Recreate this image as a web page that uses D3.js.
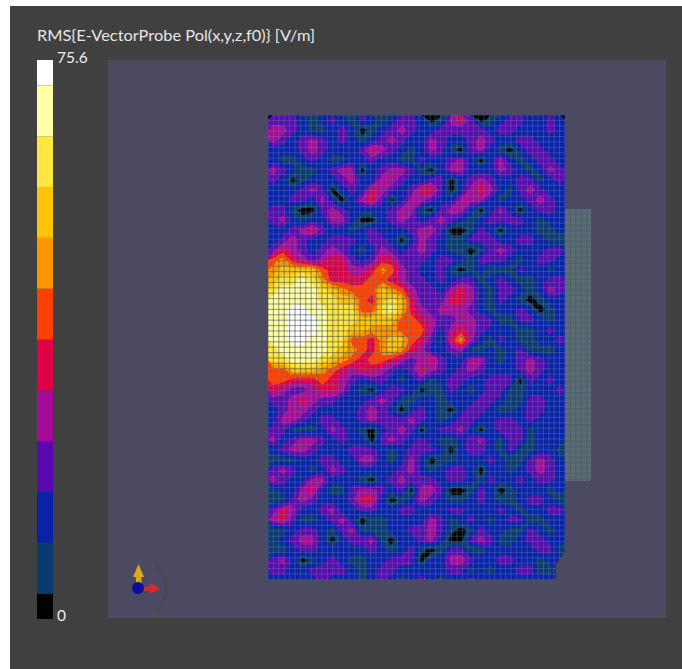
<!DOCTYPE html>
<html>
<head>
<meta charset="utf-8">
<script src="https://cdn.jsdelivr.net/npm/d3@7"></script>
<style>html,body{margin:0;padding:0;background:#fff}svg{display:block}</style>
</head>
<body>
<svg id="chart" width="682" height="669"></svg>
<script>
const titleText = "RMS{E-VectorProbe Pol(x,y,z,f0)} [V/m]";
const fieldMax = 75.6;
const legendTicks = [0, 75.6];
const bandColors = ["#000000","#0a3a72","#0a22aa","#5a08b0","#a60a98","#e00048","#ff4000","#ff9600","#ffc40a","#ffe640","#ffffa8","#ffffff"];
const fieldRows = [
"333212321321233201453012332232",
"443211232012343223333323322232",
"432343232123432243223432233222",
"222343222354321243103421023322",
"211232112232211322342024212332",
"432112344023443102442224321243",
"320122234224432233023432233123",
"222343023254323553024542134322",
"223324202453024432244421223432",
"331003432222344103442024202332",
"342122442002343234321233332122",
"223453221232223443001320222112",
"234322333233202432113332233211",
"354323432124323432110134322233",
"675434553235533323321333212332",
"788886554457643223101211132212",
"899a97555566543323233123211233",
"9aaaa9876668764332454213321243",
"aaaaa9988658985333554213210122",
"aabbaa999669a85434443212232012",
"aabbba999888866543344331133212",
"aabbba998877766642454322211232",
"aabbaa996657886531574213211223",
"9aaaaa987657875422341121231112",
"99aaa9876566543453224421234322",
"668887654554323543234322234322",
"665556543233212312332233303232",
"543345542102332011321233112223",
"334543322234311221222332113322",
"234432222343202321023321123322",
"244323322343334321233223323222",
"331112432102343023342023331222",
"423443232203432321123421331222",
"234432223332123332023321311221",
"111223322442124201122232113432",
"343212432222234212332022123432",
"432244222102343332332132232332",
"122452113443230443001320122212",
"113432223552012432112321123321",
"354223422332233222332223212233",
"453112342011222243123212331122",
"112332134111223343101322113212",
"123442023341022342003431123322",
"112332222232123101331122222331",
"342012321122333022443223322122",
"332233332123322222331212233112",
"222223222123212321223222222222"
];
const levelStep = fieldMax / (bandColors.length - 1);
const fieldValues = fieldRows.flatMap(r => Array.from(r, c => parseInt(c, 16) * levelStep));
const nCols = fieldRows[0].length, nRows = fieldRows.length;

const svg = d3.select("#chart");
const defs = svg.append("defs");
defs.append("filter").attr("id","soft").attr("x","-5%").attr("y","-5%").attr("width","110%").attr("height","110%")
  .append("feGaussianBlur").attr("stdDeviation",0.55);

// frame
svg.append("rect").attr("x",10).attr("y",6).attr("width",672).attr("height",663).attr("fill","#404040");
svg.append("rect").attr("x",108).attr("y",60).attr("width",558).attr("height",558).attr("fill","#4b4a62");

// scales
const xField = d3.scaleLinear().domain([0,nCols]).range([268,565]);
const yField = d3.scaleLinear().domain([0,nRows]).range([115,585]);
const bandEdges = d3.range(bandColors.length-1).map(k => (k+0.5)*levelStep);
const color = d3.scaleThreshold().domain(bandEdges).range(bandColors);

// side block
const side = svg.append("g").attr("filter","url(#soft)");
side.append("rect").attr("x",565).attr("y",209).attr("width",26).attr("height",272).attr("fill","#5b6c74");
d3.range(570.4,591,5.4).forEach(x=>side.append("line").attr("x1",x).attr("x2",x).attr("y1",209).attr("y2",481).attr("stroke","#4e5c68").attr("stroke-width",0.8));
d3.range(214.4,481,5.4).forEach(y=>side.append("line").attr("x1",565).attr("x2",591).attr("y1",y).attr("y2",y).attr("stroke","#4e5c68").attr("stroke-width",0.6));

// field clip with chamfered corner
defs.append("clipPath").attr("id","plate").append("path").attr("d","M268,115H565V552L556,564V580H268Z");

const contours = d3.contours().size([nCols,nRows]).thresholds(bandEdges)(fieldValues);
const proj = d3.geoTransform({point(x,y){this.stream.point(xField(x),yField(y));}});
const path = d3.geoPath(proj);
const plate = svg.append("g").attr("clip-path","url(#plate)");
const inner = plate.append("g").attr("filter","url(#soft)");
inner.append("rect").attr("x",268).attr("y",115).attr("width",297).attr("height",465).attr("fill",bandColors[0]);
inner.selectAll("path.band").data(contours).join("path").attr("class","band")
  .attr("d",path)
  .attr("fill",d=>color(d.value+0.01));

// mesh: faint pale lines over the cool field, dark lines over the hot field
const gridStep = 5.4;
const vLines = d3.range(268,566,gridStep), hLines = d3.range(115,581,gridStep);
function drawMesh(g){
  g.selectAll("line.v").data(vLines).join("line").attr("class","v")
    .attr("x1",d=>d).attr("x2",d=>d).attr("y1",115).attr("y2",580);
  g.selectAll("line.h").data(hLines).join("line").attr("class","h")
    .attr("y1",d=>d).attr("y2",d=>d).attr("x1",268).attr("x2",565);
}
inner.append("g").attr("stroke","#6a92a0").attr("stroke-opacity",0.4).attr("stroke-width",0.9).call(drawMesh);
defs.append("clipPath").attr("id","hot").append("path").attr("d",path(contours[6]));
inner.append("g").attr("clip-path","url(#hot)").attr("stroke","#403420").attr("stroke-opacity",0.42).attr("stroke-width",0.9).call(drawMesh);

// colour legend
const yLegend = d3.scaleLinear().domain([0,fieldMax]).range([619,60]);
const legendBands = bandColors.map((c,k)=>({c,lo:Math.max(0,(k-0.5)*levelStep),hi:Math.min(fieldMax,(k+0.5)*levelStep)}));
svg.append("g").selectAll("rect").data(legendBands).join("rect")
  .attr("x",37).attr("width",16)
  .attr("y",d=>yLegend(d.hi)).attr("height",d=>yLegend(d.lo)-yLegend(d.hi))
  .attr("fill",d=>d.c);
const legendAxis = d3.axisRight(yLegend).tickValues(legendTicks).tickSize(0).tickPadding(0)
  .tickFormat(d=>d===0?"0":d3.format(".1f")(d));
const ax = svg.append("g").attr("transform","translate(57,0)").call(legendAxis);
ax.select(".domain").remove();
ax.selectAll("text").attr("fill","#ececec").attr("font-family","Lato,sans-serif").attr("font-size",15.5).attr("x",0).attr("dy",0);
ax.selectAll(".tick").filter(d=>d===0).select("text").attr("y",1.5);
ax.selectAll(".tick").filter(d=>d===fieldMax).select("text").attr("y",2.5);

// title
svg.append("text").attr("x",37).attr("y",41).text(titleText)
  .attr("fill","#e6e6e6").attr("font-family","Lato,sans-serif").attr("font-size",15.3)
  .attr("textLength",278).attr("lengthAdjust","spacingAndGlyphs");

// orientation triad
const triad = svg.append("g").attr("filter","url(#soft)");
triad.append("path").attr("d","M155,563Q176,586 157,612").attr("fill","none").attr("stroke","#4a4a52").attr("stroke-width",3);
triad.append("path").attr("d","M136,585V577H133L138.5,564L144,577H141.5V585Z").attr("fill","#d9a81c");
triad.append("path").attr("d","M142,587H150V583L160.5,588.5L150,593.5V590.5H142Z").attr("fill","#e0282c");
triad.append("circle").attr("cx",138).attr("cy",588).attr("r",6).attr("fill","#0a0a9c");
</script>
</body>
</html>
